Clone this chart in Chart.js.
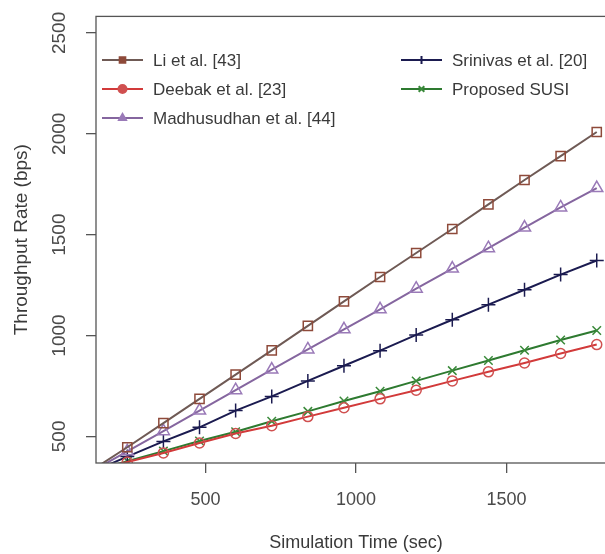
<!DOCTYPE html>
<html>
<head>
<meta charset="utf-8">
<script src="https://cdn.jsdelivr.net/npm/chart.js@4.4.0/dist/chart.umd.min.js"></script>
<style>
  html, body { margin: 0; padding: 0; background: #fff; overflow: hidden; }
  #wrap { width: 625px; height: 554px; }
</style>
</head>
<body>
<div id="wrap"><canvas id="chart" width="625" height="554"></canvas></div>
<script>
// Simulation time (sec) and throughput (bps)
const simTimes = [120, 240, 360, 480, 600, 720, 840, 960, 1080, 1200, 1320, 1440, 1560, 1680, 1800];
const liThroughput = [330, 446, 566, 686, 806, 926, 1048, 1169, 1290, 1409, 1528, 1650, 1771, 1889, 2009];
const deebakThroughput = [328, 373, 418, 467, 514, 553, 598, 642, 686, 729, 775, 820, 864, 911, 955];
const madhuThroughput = [325, 426, 526, 628, 729, 831, 931, 1031, 1130, 1232, 1332, 1433, 1535, 1635, 1731];
const srinivasThroughput = [322, 400, 475, 545, 628, 698, 775, 850, 925, 1003, 1078, 1153, 1227, 1302, 1372];
const susiThroughput = [327, 377, 427, 477, 523, 575, 624, 675, 724, 775, 826, 876, 927, 978, 1025];

const xTicks = [500, 1000, 1500];
const yTicks = [500, 1000, 1500, 2000, 2500];

const FONT = "'Liberation Sans', Arial, sans-serif";
const toPoints = (ys) => ys.map((y, i) => ({ x: simTimes[i], y }));

function makeSeries(label, values, lineColor, markColor, pointStyle, radius) {
  return {
    label,
    data: toPoints(values),
    borderColor: lineColor,
    borderWidth: 2,
    pointStyle,
    pointRadius: radius,
    pointBorderColor: markColor,
    pointBackgroundColor: "rgba(0,0,0,0)",
    pointBorderWidth: 1.5,
    tension: 0,
    clip: 0
  };
}

const datasets = [
  makeSeries("Li et al. [43]", liThroughput, "#6f5a55", "#8e4a3a", "rect", 6.5),
  makeSeries("Deebak et al. [23]", deebakThroughput, "#d23a3a", "#d05050", "circle", 5),
  makeSeries("Madhusudhan et al. [44]", madhuThroughput, "#85669f", "#9a7ab8", "triangle", 7),
  makeSeries("Srinivas et al. [20]", srinivasThroughput, "#1b1b50", "#1b1b50", "cross", 7),
  makeSeries("Proposed SUSI", susiThroughput, "#2e7a30", "#3a8a3a", "crossRot", 6)
];

// legend placed inside the plot, two columns like the R original
const legendSlots = [
  { x: 102, y: 60 }, { x: 102, y: 89 }, { x: 102, y: 118 },
  { x: 401, y: 60 }, { x: 401, y: 89 }
];
const legendMarks = ["rect", "circle", "triangle", "cross", "crossRot"];

const boxAndLegend = {
  id: "boxAndLegend",
  afterDraw(chart) {
    const { ctx, chartArea } = chart;
    ctx.save();
    ctx.strokeStyle = "#555";
    ctx.lineWidth = 1.3;
    ctx.strokeRect(chartArea.left, chartArea.top, chartArea.right - chartArea.left, chartArea.bottom - chartArea.top);

    ctx.font = "17px " + FONT;
    ctx.textBaseline = "middle";
    ctx.textAlign = "left";
    chart.data.datasets.forEach((ds, i) => {
      const s = legendSlots[i];
      ctx.strokeStyle = ds.borderColor;
      ctx.lineWidth = 2;
      ctx.beginPath();
      ctx.moveTo(s.x, s.y);
      ctx.lineTo(s.x + 41, s.y);
      ctx.stroke();
      ctx.fillStyle = ds.pointBorderColor;
      ctx.strokeStyle = ds.pointBorderColor;
      Chart.helpers.drawPoint(ctx, { pointStyle: legendMarks[i], radius: 4, borderWidth: 1.5, rotation: 0 }, s.x + 20.5, s.y);
      ctx.fillStyle = "#3a3a3a";
      ctx.fillText(ds.label, s.x + 51, s.y + 1);
    });
    ctx.restore();
  }
};

new Chart(document.getElementById("chart"), {
  type: "line",
  data: { datasets },
  options: {
    responsive: false,
    animation: false,
    layout: { padding: { top: 14, right: 9, left: 0, bottom: 0 } },
    plugins: { legend: { display: false }, tooltip: { enabled: false } },
    scales: {
      x: {
        type: "linear",
        min: 136,
        max: 1864,
        afterBuildTicks: (scale) => { scale.ticks = xTicks.map(v => ({ value: v })); },
        afterFit: (scale) => { scale.height = 91; },
        grid: { drawOnChartArea: false, drawTicks: true, tickLength: 10, color: "#555", lineWidth: 1.3 },
        border: { display: false },
        ticks: {
          color: "#4a4a4a",
          padding: 16,
          maxRotation: 0,
          callback: (v) => String(v),
          font: { family: FONT, size: 18 }
        },
        title: {
          display: true,
          text: "Simulation Time (sec)",
          color: "#3a3a3a",
          padding: { top: 0, bottom: 0 },
          font: { family: FONT, size: 18 }
        }
      },
      y: {
        type: "linear",
        min: 368,
        max: 2582,
        afterBuildTicks: (scale) => { scale.ticks = yTicks.map(v => ({ value: v })); },
        afterFit: (scale) => { scale.width = 96; },
        grid: { drawOnChartArea: false, drawTicks: true, tickLength: 10, color: "#555", lineWidth: 1.3 },
        border: { display: false },
        ticks: {
          color: "#4a4a4a",
          padding: 5,
          minRotation: 90,
          maxRotation: 90,
          crossAlign: "center",
          callback: (v) => String(v),
          font: { family: FONT, size: 19 }
        },
        title: {
          display: true,
          text: "Throughput Rate (bps)",
          color: "#3a3a3a",
          padding: { top: 10, bottom: 0 },
          font: { family: FONT, size: 19 }
        }
      }
    }
  },
  plugins: [boxAndLegend]
});
</script>
</body>
</html>
